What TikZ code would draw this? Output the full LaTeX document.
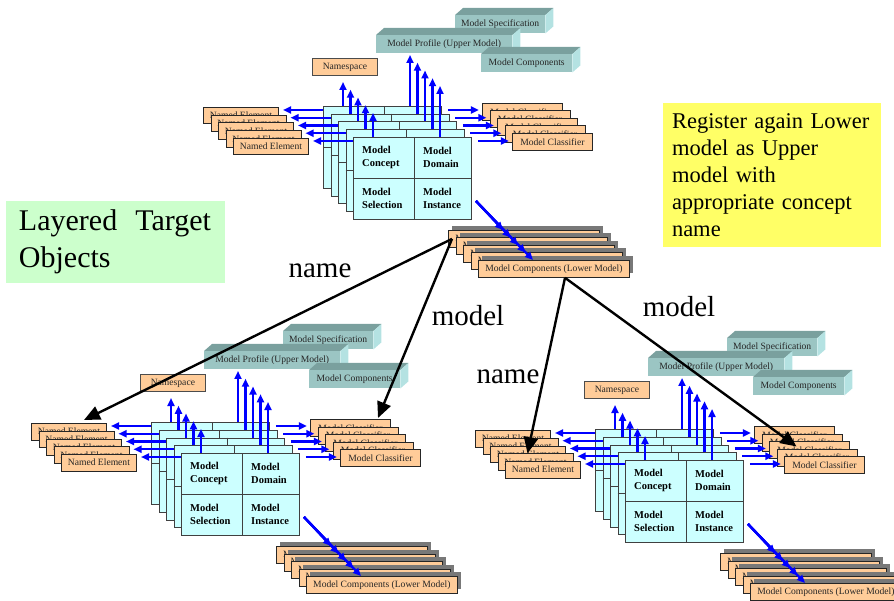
\documentclass[tikz,border=0pt]{standalone}
\usepackage{fontspec}
\setmainfont{Liberation Serif}
\usetikzlibrary{arrows.meta,positioning}
\definecolor{boxorange}{RGB}{255,204,153}
\definecolor{layercyan}{RGB}{204,255,255}
\definecolor{slabfront}{RGB}{155,197,195}
\definecolor{slabtop}{RGB}{122,160,158}
\definecolor{slabside}{RGB}{180,226,226}
\definecolor{shadowgray}{RGB}{120,120,120}
\definecolor{notegreen}{RGB}{204,255,204}
\definecolor{noteyellow}{RGB}{255,255,102}

% top and side faces of a 3-d slab
\newcommand{\slabfaces}[1]{%
  \fill[slabtop] (#1.north west) -- ++(8,-7) -- ([shift={(8,-7)}]#1.north east) -- (#1.north east) -- cycle;
  \fill[slabside] (#1.north east) -- ++(8,-7) -- ([shift={(8,-7)}]#1.south east) -- (#1.south east) -- cycle;}

% one group of layered objects, names prefixed with #1
\newcommand{\layeredgroup}[1]{%
  \node[nsbox] (#1ns) at (312,58) {Namespace};
  \node[slab, minimum width=90pt] (#1spec) at (455,15) {Model Specification};
  \slabfaces{#1spec}
  \node[slab, minimum width=136pt] (#1prof) at (376,35) {Model Profile (Upper Model)};
  \slabfaces{#1prof}
  \node[slab, minimum width=91pt] (#1comp) at (481,54) {Model Components};
  \slabfaces{#1comp}
  % stacked named elements and classifiers
  \foreach \i in {0,...,4} {
    \node[nebox] (#1ne\i) at ({203+7.5*\i},{107+7.75*\i}) {Named Element};
    \node[mcbox] (#1mc\i) at ({482+7.5*\i},{103+7.5*\i}) {Model Classifier};
  }
  % layers
  \foreach \i in {0,...,4} {
    \node[layer] (#1lay\i) at ({323+7.5*\i},{106+7.75*\i}) {};
    \draw[layerline] ([xshift=61pt]#1lay\i.north west) -- ([xshift=61pt]#1lay\i.south west);
    \draw[layerline] (#1lay\i.west) -- (#1lay\i.east);
  }
  \node[cell] (#1concept) at ([shift={(9,20.5)}]#1lay4.north west) {Model\\Concept};
  \node[cell] (#1domain) at ([shift={(70,20.5)}]#1lay4.north west) {Model\\Domain};
  \node[cell] (#1select) at ([shift={(9,61.5)}]#1lay4.north west) {Model\\Selection};
  \node[cell] (#1inst) at ([shift={(70,61.5)}]#1lay4.north west) {Model\\Instance};
  % blue links out of each layer
  \foreach \i in {0,...,4} {
    \draw[bluearrow] ([xshift=20pt]#1lay\i.north west) -- ++(0,-24);
    \draw[bluearrow] ([xshift=87pt]#1lay\i.north west) -- ++(0,-51);
    \draw[bluearrow] ([yshift=-4pt]#1lay\i.north west) -- ++(-40,0);
    \draw[bluearrow] ([shift={(6,4)}]#1lay\i.north east) -- ++(31,0);
  }
  % lower model stack
  \foreach \i in {0,...,4} {
    \fill[shadowgray] ({452+7.5*\i},{226+7.5*\i}) rectangle ++(151,17);
    \node[lmbox] (#1lm\i) at ({448+7.5*\i},{230+7.5*\i}) {Model Components (Lower Model)};
  }
  \foreach \i in {0,...,4}
    \draw[bluearrow] ([shift={(4,-19)}]#1lay4.south east) -- ([xshift=55pt]#1lm\i.north west);
}

\begin{document}
\begin{tikzpicture}[
  x=1pt, y=-1pt,
  smallfont/.style={font=\fontsize{9.6}{11}\selectfont},
  orangebox/.style={rectangle, draw=black!85, line width=0.8pt, fill=boxorange, inner sep=0pt,
    anchor=north west, smallfont, text=black!85},
  nebox/.style={orangebox, minimum width=75pt, minimum height=16.5pt},
  mcbox/.style={orangebox, minimum width=80pt, minimum height=17pt},
  lmbox/.style={orangebox, minimum width=151pt, minimum height=17pt},
  nsbox/.style={orangebox, draw=black!70, minimum width=65pt, minimum height=17pt},
  slab/.style={rectangle, fill=slabfront, inner sep=0pt, anchor=north west,
    minimum height=18pt, smallfont, text=black!85},
  layer/.style={rectangle, draw=black!75, line width=0.9pt, fill=layercyan, anchor=north west,
    minimum width=118pt, minimum height=82pt, inner sep=0pt},
  layerline/.style={black!75, line width=0.9pt},
  cell/.style={anchor=west, align=left, inner sep=0pt,
    font=\fontsize{10.5}{12.5}\selectfont\bfseries},
  bluearrow/.style={-{Triangle[length=8pt,width=7pt]}, blue, line width=2.2pt},
  bigarrow/.style={-{Triangle[length=16pt,width=14pt]}, black, line width=2.4pt},
  bigword/.style={font=\fontsize{29}{34}\selectfont},
  note/.style={rectangle, inner sep=0pt, text=black},
]
\clip (0,0) rectangle (894,601);

% --- three groups ---
\layeredgroup{t}
\begin{scope}[shift={(-172,316)}]
  \layeredgroup{l}
\end{scope}
\begin{scope}[shift={(272,323)}]
  \layeredgroup{r}
\end{scope}

% --- links from the lower model to the new groups ---
\draw[bigarrow] ([xshift=4pt]tlm0.west) -- ([shift={(53,-3)}]lne0.north west);
\draw[bigarrow] ([xshift=4pt]tlm0.west) -- ([shift={(68,-1)}]lmc0.north west);
\draw[bigarrow] ([xshift=87pt]tlm4.south west) -- ([xshift=30pt]rne3.north west);
\draw[bigarrow] ([xshift=87pt]tlm4.south west) -- ([shift={(20,-2)}]rmc3.north west);

\node[bigword] (lname) at (320,271) {name};
\node[bigword] (lmodel) at (468,316) {model};
\node[bigword] (rmodel) at (679,307) {model};
\node[bigword] (rname) at (508,377) {name};

% --- notes ---
\node[note, fill=notegreen, minimum width=219pt, minimum height=82pt, text width=192pt,
  align=justify, font=\fontsize{30}{37}\selectfont] (layered) at (115,242)
  {Layered Target Objects};
\node[note, fill=noteyellow, minimum width=218pt, minimum height=144pt, text width=200pt,
  align=left, font=\fontsize{22.5}{27}\selectfont] (register) at (772,175)
  {Register again Lower\\model as Upper\\model with\\appropriate concept\\name};
\end{tikzpicture}
\end{document}
